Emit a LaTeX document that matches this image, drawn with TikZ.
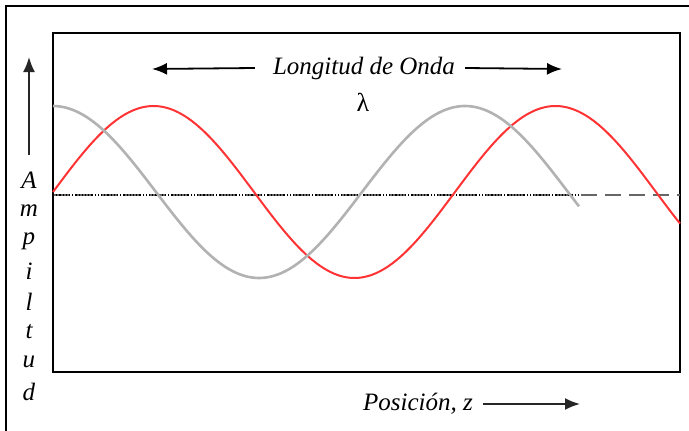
\documentclass[tikz,border=0pt]{standalone}
\usepackage{fontspec}
\setmainfont{Liberation Serif}
\usetikzlibrary{arrows.meta}

\begin{document}
\begin{tikzpicture}[x=1pt,y=-1pt,
  flecha/.style={line width=1.8pt,-{Latex[length=15pt,width=12pt]}},
  onda/.style={line width=2pt,samples=200,smooth},
  rotulo/.style={font=\fontsize{25}{28}\selectfont\itshape,inner sep=0pt}]
        \useasboundingbox (0,0) rectangle (689,431);
        %marco exterior
        \draw[line width=2.5pt] (6,431)-- (6,6)-- (689,6);
        %marco de la grafica
        \draw[line width=2pt] (53,33) rectangle (680,372);
        %eje horizontal
        \draw[gray!80!black, line width=1.5pt, dash pattern=on 16pt off 8pt] (53,195)-- (680,195);
        \draw[black, line width=1.2pt, dotted] (53,195)-- (579,195);
        %ondas
        \draw[onda, red!80, domain=53:680] plot (\x, {192-86*sin((\x-53)/402*360)});
        \draw[onda, gray!60, line width=2.6pt, domain=53:579] plot (\x, {192-86*cos((\x-53)/412*360)});
        %longitud de onda
        \node[rotulo] (titulo) at (364,68) {Longitud de Onda};
        \node[font=\fontsize{26}{28}\selectfont, inner sep=0pt] (lambda) at (363,102) {λ};
        \coordinate (izq) at (152,69);
        \coordinate (der) at (562,69);
        \draw[flecha] ([xshift=-18pt]titulo.west)-- (izq);
        \draw[flecha] ([xshift=10pt]titulo.east)-- (der);
        %eje z
        \node[rotulo] (posicion) at (418,404) {Posición, z};
        \coordinate (fin) at (580,404);
        \draw[flecha, gray!30!black] ([xshift=10pt]posicion.east)-- (fin);
        %amplitud
        \foreach \letra [count=\i] in {A,m,p,i,l,t,u,d}
          \node[rotulo] (amp\i) at (29,{150+30.3*\i}) {\letra};
        \coordinate (arriba) at (29,57);
        \draw[flecha, gray!30!black] ([yshift=17pt]amp1.north)-- (arriba);
\end{tikzpicture}
\end{document}
